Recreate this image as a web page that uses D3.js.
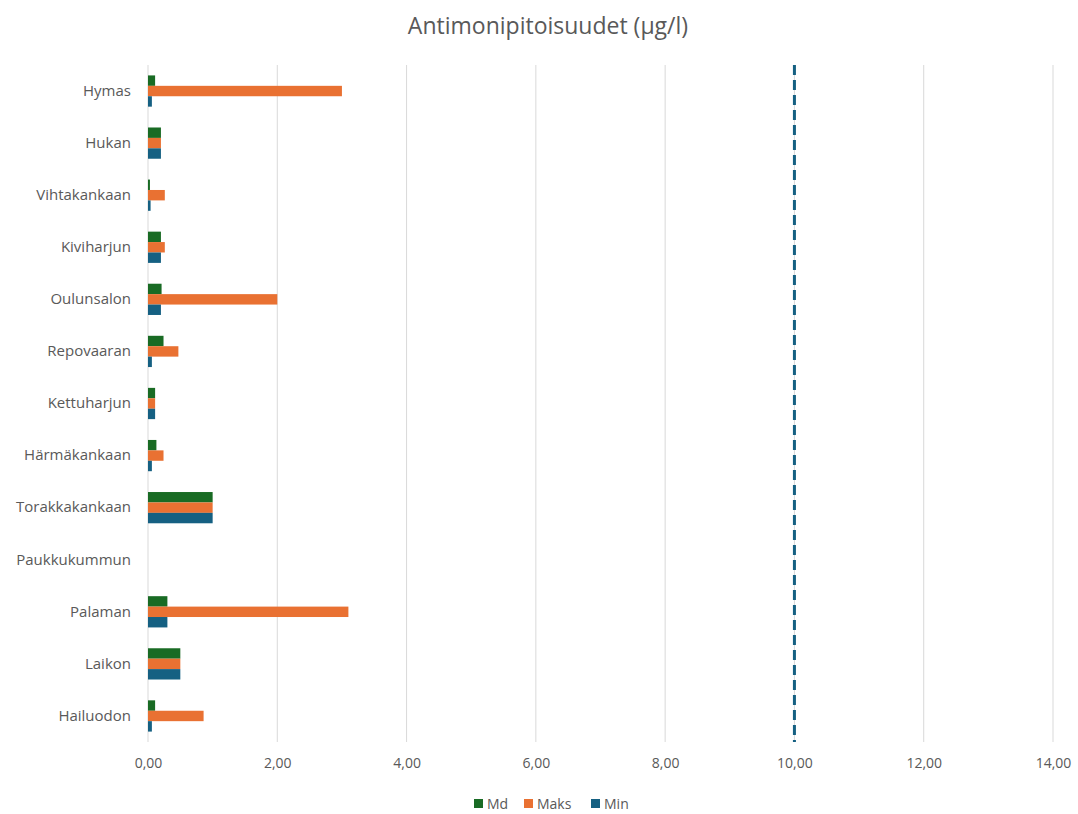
<!DOCTYPE html>
<html>
<head>
<meta charset="utf-8">
<script src="https://cdn.jsdelivr.net/npm/d3@7"></script>
<style>
  body { margin: 0; background: #fff; }
  text { font-family: "Open Sans", "DejaVu Sans", sans-serif; fill: #595959; }
</style>
</head>
<body>
<svg id="chart"></svg>
<script>
/* data, top to bottom */
const categories = ['Hymas', 'Hukan', 'Vihtakankaan', 'Kiviharjun', 'Oulunsalon', 'Repovaaran',
    'Kettuharjun', 'Härmäkankaan', 'Torakkakankaan', 'Paukkukummun', 'Palaman', 'Laikon', 'Hailuodon'];
const seriesNames = ['Md', 'Maks', 'Min'];
const mdValues   = [0.11, 0.2, 0.03, 0.2, 0.21, 0.24, 0.11, 0.13, 1.0, null, 0.3, 0.5, 0.11];
const maksValues = [3.0, 0.2, 0.26, 0.26, 2.0, 0.47, 0.11, 0.24, 1.0, null, 3.1, 0.5, 0.86];
const minValues  = [0.06, 0.2, 0.04, 0.2, 0.2, 0.06, 0.11, 0.06, 1.0, null, 0.3, 0.5, 0.06];
const xTicks = [0, 2, 4, 6, 8, 10, 12, 14];
const limitValue = 10;
const title = 'Antimonipitoisuudet (µg/l)';

const colors = { Md: '#196b24', Maks: '#e97132', Min: '#156082' };

/* layout */
let width = 1078;
let height = 814;
let margin = { top: 65, right: 25, bottom: 72, left: 148 };
let innerW = width - margin.left - margin.right;
let innerH = height - margin.top - margin.bottom;

let svg = d3.select('#chart').attr('width', width).attr('height', height);
let chart = svg.append('g').attr('transform', `translate(${margin.left}, ${margin.top})`);

let x = d3.scaleLinear().domain([0, 14]).range([0, innerW]);
let y = d3.scaleBand().domain(categories).range([0, innerH]).paddingInner(0.4).paddingOuter(0.2);
let ySub = d3.scaleBand().domain(seriesNames).range([0, y.bandwidth()]);

/* gridlines */
chart.append('g')
    .selectAll('line')
    .data(xTicks)
    .join('line')
    .attr('x1', d => x(d)).attr('x2', d => x(d))
    .attr('y1', 0).attr('y2', innerH)
    .attr('stroke', '#d9d9d9')
    .attr('stroke-width', 1);

/* bars */
let rows = categories.map((c, i) => ({ cat: c, Md: mdValues[i], Maks: maksValues[i], Min: minValues[i] }));
let groups = chart.append('g')
    .selectAll('g')
    .data(rows)
    .join('g')
    .attr('transform', d => `translate(0, ${y(d.cat)})`);

groups.selectAll('rect')
    .data(d => seriesNames.map(s => ({ key: s, value: d[s] })).filter(e => e.value != null))
    .join('rect')
    .attr('x', x(0))
    .attr('y', d => ySub(d.key))
    .attr('width', d => x(d.value) - x(0))
    .attr('height', ySub.bandwidth())
    .attr('fill', d => colors[d.key]);

/* limit line */
chart.append('line')
    .attr('x1', x(limitValue)).attr('x2', x(limitValue))
    .attr('y1', 0).attr('y2', innerH)
    .attr('stroke', '#156082')
    .attr('stroke-width', 3)
    .attr('stroke-dasharray', '10,5');

/* axes */
let xAxis = d3.axisBottom(x)
    .tickValues(xTicks)
    .tickSize(0)
    .tickPadding(16)
    .tickFormat(d => d3.format('.2f')(d).replace('.', ','));
chart.append('g')
    .attr('transform', `translate(0, ${innerH})`)
    .call(xAxis)
    .call(g => g.select('.domain').remove())
    .selectAll('text')
    .style('font-size', '14px')
    .style('font-family', '"Open Sans", sans-serif')
    .attr('fill', '#595959');

let yAxis = d3.axisLeft(y).tickSize(0).tickPadding(17);
chart.append('g')
    .call(yAxis)
    .call(g => g.select('.domain').remove())
    .selectAll('text')
    .style('font-size', '15px')
    .style('font-family', '"Open Sans", sans-serif')
    .attr('fill', '#595959');

/* title */
svg.append('text')
    .attr('x', 548)
    .attr('y', 34)
    .attr('text-anchor', 'middle')
    .style('font-size', '23px')
    .text(title);

/* legend */
let legendX = [474, 524, 591];
let legend = svg.append('g')
    .selectAll('g')
    .data(seriesNames)
    .join('g')
    .attr('transform', (d, i) => `translate(${legendX[i]}, 799)`);
legend.append('rect')
    .attr('width', 9).attr('height', 9)
    .attr('fill', d => colors[d]);
legend.append('text')
    .attr('x', 13).attr('y', 10)
    .style('font-size', '14px')
    .text(d => d);
</script>
</body>
</html>
